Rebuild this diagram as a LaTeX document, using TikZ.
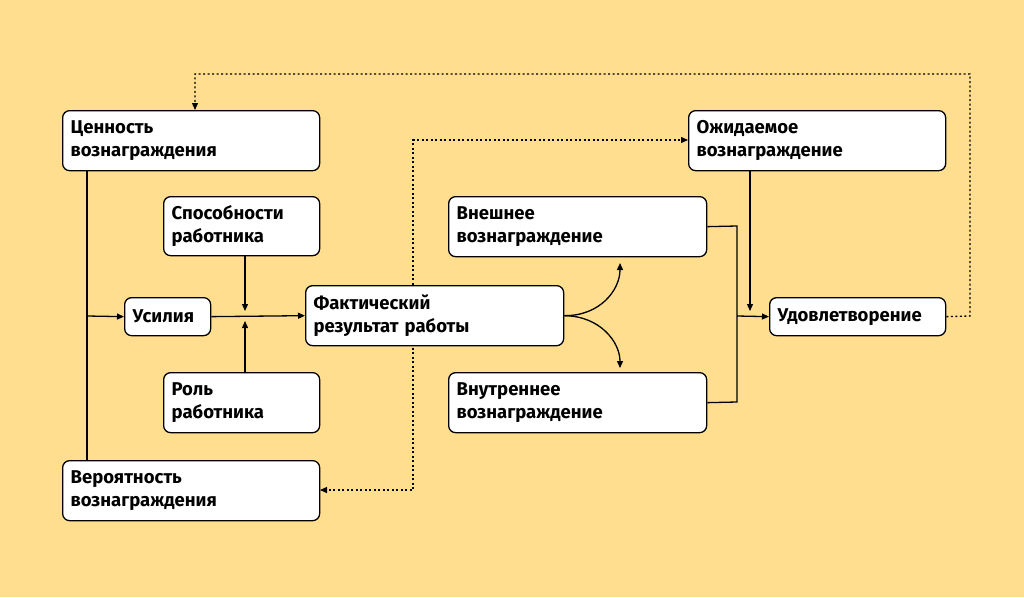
\documentclass[tikz,border=0pt]{standalone}
\usepackage{fontspec}
\setmainfont{Fira Sans}
\usetikzlibrary{arrows.meta}
\definecolor{bg}{HTML}{FFDF8F}
\begin{document}
\begin{tikzpicture}[x=1pt,y=-1pt,
  box/.style={draw=black,line width=1.3pt,fill=white,rounded corners=7pt,anchor=north west,align=left,inner xsep=8pt,inner ysep=0pt,font=\fontsize{18.5}{23}\selectfont\bfseries},
  ln/.style={line width=1.3pt},
  ar/.style={line width=1.3pt,-{Stealth[length=7pt,width=6pt,inset=0pt]}},
  dot/.style={line width=1.3pt,dash pattern=on 2pt off 2.5pt},
  dar/.style={dot,-{Stealth[length=7pt,width=6pt,inset=0pt]}}]
\fill[bg] (0,0) rectangle (1024,597);
\useasboundingbox (0,0) rectangle (1024,597);
% dotted loop behind boxes
\draw[dar] (413,316) -- (413,140) -- (688,140);
\draw[dar] (413,316) -- (413,490) -- (320,490);
\node[box,text width=241pt,minimum height=60pt] (val) at (62,110) {Ценность\\вознаграждения};
\node[box,text width=140pt,minimum height=59pt] (abil) at (163,196) {Способности\\работника};
\node[box,text width=70pt,minimum height=38pt] (eff) at (124,297) {Усилия};
\node[box,text width=242pt,minimum height=60pt] (perf) at (305,285) {Фактический\\результат работы};
\node[box,text width=140pt,minimum height=60pt] (role) at (163,372) {Роль\\работника};
\node[box,text width=241pt,minimum height=60pt] (prob) at (62,460) {Вероятность\\вознаграждения};
\node[box,text width=241pt,minimum height=60pt] (exp) at (688,110) {Ожидаемое\\вознаграждение};
\node[box,text width=242pt,minimum height=60pt] (ext) at (448,196) {Внешнее\\вознаграждение};
\node[box,text width=242pt,minimum height=60pt] (int) at (448,372) {Внутреннее\\вознаграждение};
\node[box,text width=160pt,minimum height=38pt] (sat) at (769,297) {Удовлетворение};
\coordinate (j) at (245,316);
\coordinate (k) at (737,316);
% left
\draw[ln] (87,170) -- (87,460);
\draw[ar] (87,316) -- (eff.west);
\draw[ar] (eff.east) -- (perf.west);
\draw[ar] (abil.south -| j) -- (245,311);
\draw[ar] (role.north -| j) -- (245,321);
% split
\draw[ar] (perf.east) .. controls (600,316) and (620,290) .. (620,263);
\draw[ar] (perf.east) .. controls (600,316) and (620,342) .. (620,368);
% right
\draw[ln] (ext.east) -- (737,226) -- (737,402) -- (int.east);
\draw[ar] (exp.south -| 750,0) -- (750,311);
\draw[ar] (k) -- (sat.west);
\draw[dar] (sat.east) -- (970,316) -- (970,74) -- (195,74) -- (val.north -| 195,0);
\end{tikzpicture}
\end{document}
